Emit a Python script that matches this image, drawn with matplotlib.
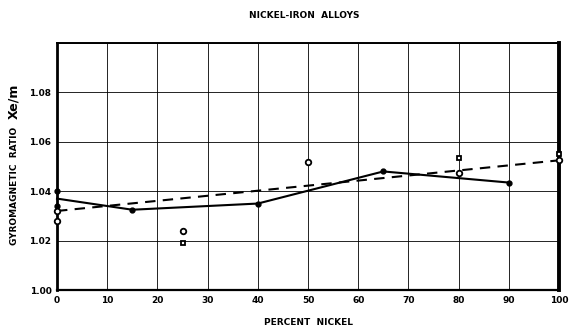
import matplotlib
matplotlib.use("Agg")
import matplotlib.pyplot as plt

# Solid curve (filled dots)
solid_x = [0, 15, 40, 65, 90]
solid_y = [1.037, 1.0325, 1.035, 1.048, 1.0435]
solid_pts_x = [15, 40, 65, 90, 0, 0]
solid_pts_y = [1.0325, 1.035, 1.048, 1.0435, 1.040, 1.034]

# Dashed curve
dash_x = [0, 100]
dash_y = [1.032, 1.0525]

# Open circles
circ_x = [0, 0, 25, 50, 80, 100]
circ_y = [1.032, 1.028, 1.024, 1.052, 1.0475, 1.0525]

# Open squares
sq_x = [25, 80, 100]
sq_y = [1.019, 1.0535, 1.055]

xticks = list(range(0, 101, 10))
yticks = [1.00, 1.02, 1.04, 1.06, 1.08]
yticklabels = ["1.00", "1.02", "1.04", "1.06", "1.08"]

fig = plt.figure(figsize=(5.69, 3.30), dpi=100)
ax = fig.add_axes([0.1002, 0.1212, 0.8822, 0.7485])
ax.set_xlim(0, 100)
ax.set_ylim(1.00, 1.10)

ax.set_xticks(xticks)
ax.set_yticks(yticks + [1.10])
ax.set_yticklabels(yticklabels + [""])
ax.grid(True, color="black", linewidth=0.6)
ax.tick_params(length=0, pad=4, labelsize=6.5)
for lab in ax.get_xticklabels() + ax.get_yticklabels():
    lab.set_fontweight("bold")

for side, lw in [("left", 2.0), ("right", 2.8), ("top", 1.4), ("bottom", 1.6)]:
    ax.spines[side].set_linewidth(lw)

ax.plot(solid_x, solid_y, color="black", linewidth=1.5, zorder=3, clip_on=False)
ax.plot(dash_x, dash_y, color="black", linewidth=1.5, linestyle=(0, (5, 3.5)), zorder=3, clip_on=False)
ax.plot(solid_pts_x, solid_pts_y, "o", color="black", markersize=3.5, zorder=4, clip_on=False)
ax.plot(circ_x, circ_y, "o", markerfacecolor="white", markeredgecolor="black",
        markersize=4, markeredgewidth=1.3, zorder=5, clip_on=False)
ax.plot(sq_x, sq_y, "s", markerfacecolor="white", markeredgecolor="black",
        markersize=3.5, markeredgewidth=1.3, zorder=5, clip_on=False)

fig.text(0.535, 0.953, "NICKEL-IRON  ALLOYS", ha="center", va="center",
         fontsize=6.5, fontweight="bold")
fig.text(0.543, 0.024, "PERCENT  NICKEL", ha="center", va="center",
         fontsize=6.5, fontweight="bold")
fig.text(0.025, 0.437, "GYROMAGNETIC  RATIO", ha="center", va="center",
         rotation=90, fontsize=6.5, fontweight="bold")
fig.text(0.025, 0.638, "Xe/m", ha="center", va="bottom",
         rotation=90, fontsize=9, fontweight="bold")

fig.savefig("out.png", dpi=100)
